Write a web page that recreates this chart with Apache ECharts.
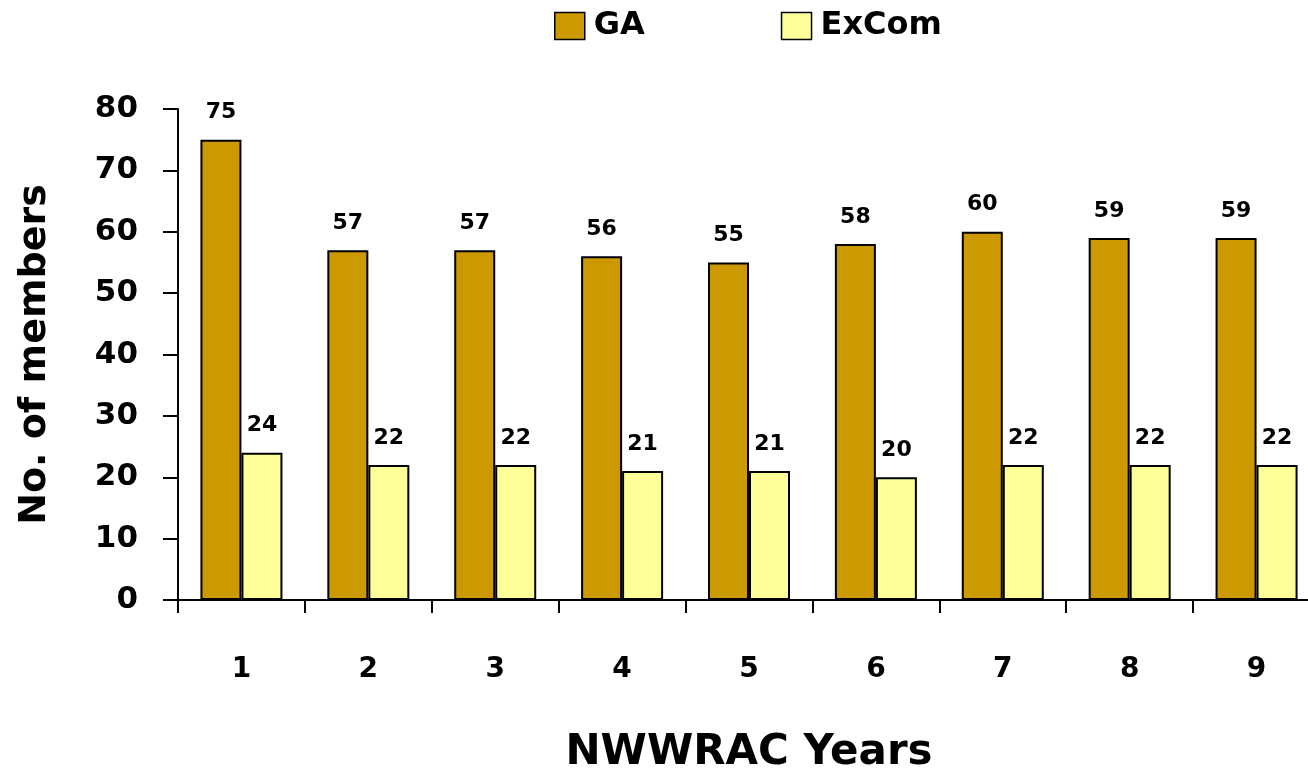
<!DOCTYPE html>
<html>
<head>
<meta charset="utf-8">
<script src="https://cdn.jsdelivr.net/npm/echarts@6/dist/echarts.min.js"></script>
<style>
html,body{margin:0;padding:0;background:#fff;}
#chart{width:1308px;height:769px;}
</style>
</head>
<body>
<div id="chart"></div>
<script>
const categories = ['1','2','3','4','5','6','7','8','9'];
const gaValues = [75,57,57,56,55,58,60,59,59];
const excomValues = [24,22,22,21,21,20,22,22,22];
const seriesNames = ['GA','ExCom'];
const yTicks = {min:0, max:80, interval:10};

const FONT = '"DejaVu Sans", Verdana, sans-serif';
const chart = echarts.init(document.getElementById('chart'));
const labelStyle = {show:true, position:'top', distance:16, fontFamily:FONT, fontWeight:'bold', fontSize:22, color:'#000'};
chart.setOption({
  animation:false,
  backgroundColor:'#fff',
  legend:{
    left:549, top:5, itemWidth:30, itemHeight:27, itemGap:136, icon:'rect',
    itemStyle:{borderColor:'#000', borderWidth:1.5},
    textStyle:{fontFamily:FONT, fontWeight:'bold', fontSize:32, color:'#000', padding:[0,0,0,4]},
    data:seriesNames
  },
  grid:{left:178, top:109, width:1142, bottom:169, containLabel:false, outerBoundsMode:'none'},
  xAxis:{
    type:'category', data:categories,
    name:'NWWRAC Years', nameLocation:'middle', nameGap:132,
    nameTextStyle:{fontFamily:FONT, fontWeight:'bold', fontSize:42, color:'#000'},
    axisLine:{lineStyle:{color:'#000', width:2}},
    axisTick:{show:true, length:13, lineStyle:{color:'#000', width:2}},
    axisLabel:{margin:56, fontFamily:FONT, fontWeight:'bold', fontSize:28, color:'#000'}
  },
  yAxis:{
    type:'value', min:yTicks.min, max:yTicks.max, interval:yTicks.interval,
    name:'No. of members', nameLocation:'middle', nameGap:124, nameRotate:90,
    nameTextStyle:{fontFamily:FONT, fontWeight:'bold', fontSize:38, color:'#000'},
    axisLine:{show:true, lineStyle:{color:'#000', width:2}},
    axisTick:{show:true, length:15, lineStyle:{color:'#000', width:2}},
    splitLine:{show:false},
    axisLabel:{margin:40, padding:[10,0,0,0], fontFamily:FONT, fontWeight:'bold', fontSize:31, color:'#000'}
  },
  series:[
    {name:seriesNames[0], type:'bar', data:gaValues, barWidth:41, barGap:'0%',
     itemStyle:{color:'#CC9900', borderColor:'#000', borderWidth:2}, label:labelStyle},
    {name:seriesNames[1], type:'bar', data:excomValues, barWidth:41, barGap:'0%',
     itemStyle:{color:'#FFFF99', borderColor:'#000', borderWidth:2}, label:labelStyle}
  ]
});
</script>
</body>
</html>
